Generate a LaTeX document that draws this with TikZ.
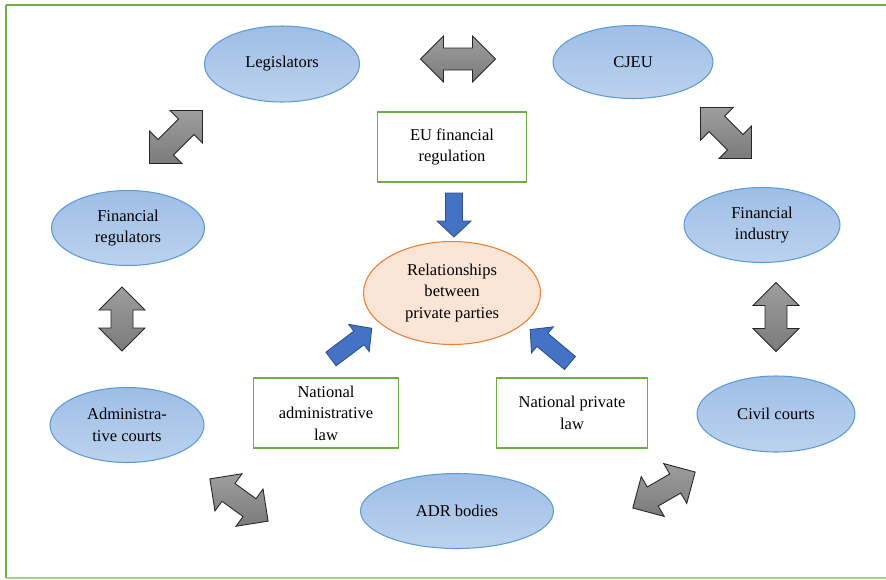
\documentclass[tikz,border=0pt]{standalone}
\usepackage{fontspec}
\setmainfont{Liberation Serif}
\usetikzlibrary{shapes.geometric}
\definecolor{eblue}{RGB}{91,155,213}
\definecolor{etop}{RGB}{158,190,230}
\definecolor{ebot}{RGB}{188,210,238}
\definecolor{oline}{RGB}{237,125,49}
\definecolor{ofill}{RGB}{251,229,214}
\definecolor{gline}{RGB}{112,173,71}
\definecolor{bfill}{RGB}{68,114,196}
\definecolor{bline}{RGB}{47,82,143}
\newcommand{\dtxt}{\fontsize{9.4}{12.3}\selectfont}
\tikzset{
  el/.style={ellipse,draw=eblue,line width=0.6pt,top color=etop,bottom color=ebot,inner sep=0pt,align=center,font=\dtxt},
  rl/.style={ellipse,draw=oline,line width=0.6pt,fill=ofill,inner sep=0pt,align=center,font=\dtxt},
  bx/.style={rectangle,draw=gline,line width=0.9pt,fill=white,inner sep=0pt,align=center,font=\dtxt},
  pics/ga/.style={code={
    \draw[black!85,line width=0.5pt,top color=black!38,bottom color=black!52]
      ({-#1/2},0) -- ({-#1/2+23},-23) -- ({-#1/2+23},-11) -- ({#1/2-23},-11) -- ({#1/2-23},-23)
      -- ({#1/2},0) -- ({#1/2-23},23) -- ({#1/2-23},11) -- ({-#1/2+23},11) -- ({-#1/2+23},23) -- cycle;}},
  pics/ga/.default=75,
  pics/ba/.style={code={
    \draw[bline,fill=bfill,line width=0.5pt]
      (0,-8.5) -- ({#1-16},-8.5) -- ({#1-16},-17) -- (#1,0) -- ({#1-16},17) -- ({#1-16},8.5) -- (0,8.5) -- cycle;}},
  pics/ba/.default=50,
}
\begin{document}
\begin{tikzpicture}[x=0.02cm,y=-0.02cm]
\useasboundingbox (0,0) rectangle (886,579);
% frame
\draw[gline,line width=0.8pt] (6,5) -- (886,5);
\draw[gline,line width=1.4pt] (6,5) -- (6,578);
\draw[gline!60,line width=0.8pt] (6,578) -- (886,578);
% actors
\node[el,minimum width=3.1cm,minimum height=1.52cm] (leg) at (282,64){Legislators};
\node[el,minimum width=3.2cm,minimum height=1.46cm] (cjeu) at (633,62){CJEU};
\node[el,minimum width=3.06cm,minimum height=1.5cm] (freg) at (128,228){Financial\\regulators};
\node[el,minimum width=3.12cm,minimum height=1.5cm] (find) at (762,225){Financial\\industry};
\node[el,minimum width=3.08cm,minimum height=1.5cm] (admc) at (127,425){Administra-\\tive courts};
\node[el,minimum width=3.16cm,minimum height=1.52cm] (civc) at (776,414){Civil courts};
\node[el,minimum width=3.86cm,minimum height=1.5cm] (adr) at (457,511){ADR bodies};
% law
\node[rl,minimum width=3.54cm,minimum height=2.06cm] (rel) at (452,293){Relationships\\between\\private parties};
\node[bx,minimum width=2.98cm,minimum height=1.4cm] (eufr) at (452,147){EU financial\\regulation};
\node[bx,minimum width=2.9cm,minimum height=1.4cm] (nadm) at (326,413){National\\administrative\\law};
\node[bx,minimum width=3.02cm,minimum height=1.4cm] (npriv) at (572,413){National private\\law};
% interaction
\pic at (458,59) {ga=75};
\pic[rotate=45] at (176,137) {ga=75};
\pic[rotate=-45] at (726,133) {ga=72};
\pic[rotate=90] at (122,319) {ga=64};
\pic[rotate=90] at (776,317) {ga=69};
\pic[rotate=-36] at (239,500) {ga=72};
\pic[rotate=30] at (664,490) {ga=72};
% influence
\pic[rotate=-90] at (454,193) {ba=44};
\pic[rotate=37] at (331,359) {ba=51};
\pic[rotate=140] at (570,363) {ba=52};
\end{tikzpicture}
\end{document}
